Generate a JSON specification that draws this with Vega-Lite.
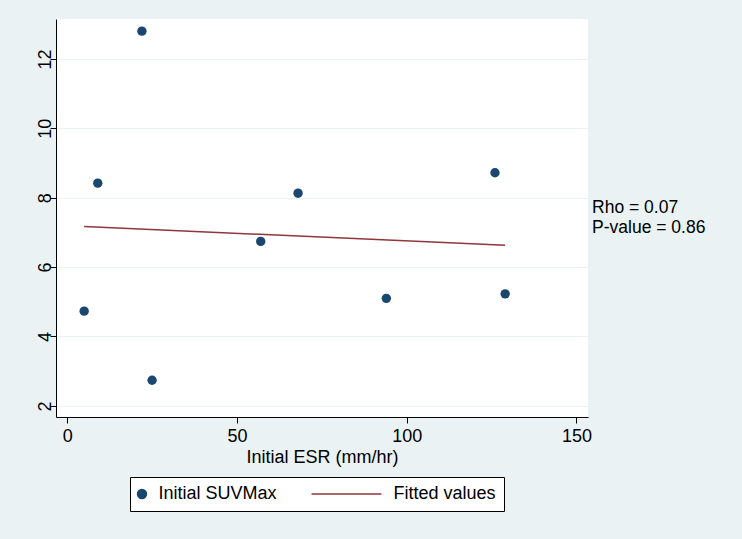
{
  "$schema": "https://vega.github.io/schema/vega-lite/v6.json",
  "width": 532,
  "height": 398,
  "autosize": "none",
  "padding": {"left": 56, "top": 19, "right": 154, "bottom": 122},
  "background": "#EAF2F3",
  "config": {
    "view": {"fill": "white", "stroke": null},
    "font": "Liberation Sans",
    "axis": {
      "domainColor": "#000000",
      "domainWidth": 1,
      "tickColor": "#000000",
      "tickSize": 6,
      "labelFont": "Liberation Sans",
      "labelFontSize": 18,
      "labelColor": "#000000",
      "titleFont": "Liberation Sans",
      "titleFontSize": 18,
      "titleFontWeight": "normal",
      "titleColor": "#000000"
    }
  },
  "datasets": {
    "points": [
      {"esr": 22, "suv": 12.8},
      {"esr": 9, "suv": 8.42},
      {"esr": 5, "suv": 4.73},
      {"esr": 25, "suv": 2.74},
      {"esr": 57, "suv": 6.74},
      {"esr": 68, "suv": 8.13},
      {"esr": 94, "suv": 5.1},
      {"esr": 126, "suv": 8.72},
      {"esr": 129, "suv": 5.23}
    ],
    "fit": [
      {"esr": 5, "fitted": 7.17},
      {"esr": 129, "fitted": 6.63}
    ],
    "note1": [
      {"label": "Rho = 0.07"}
    ],
    "note2": [
      {"label": "P-value = 0.86"}
    ]
  },
  "layer": [
    {
      "data": {"name": "points"},
      "mark": {"type": "point", "filled": true, "size": 88, "opacity": 1},
      "encoding": {
        "x": {
          "field": "esr",
          "type": "quantitative",
          "scale": {"domain": [-3.3, 153.4], "nice": false, "zero": false},
          "axis": {
            "values": [0, 50, 100, 150],
            "grid": false,
            "title": "Initial ESR (mm/hr)",
            "labelPadding": 4,
            "titlePadding": 3
          }
        },
        "y": {
          "field": "suv",
          "type": "quantitative",
          "scale": {"domain": [1.68, 13.15], "nice": false, "zero": false},
          "axis": {
            "values": [2, 4, 6, 8, 10, 12],
            "grid": true,
            "gridColor": "#EAF2F3",
            "gridWidth": 1.2,
            "title": null,
            "labelAngle": -90,
            "labelAlign": "center",
            "labelBaseline": "alphabetic",
            "labelPadding": 0
          }
        },
        "color": {
          "datum": "Initial SUVMax",
          "type": "nominal",
          "scale": {"domain": ["Initial SUVMax", "Fitted values"], "range": ["#1A476F", "#90353B"]},
          "legend": {
            "title": null,
            "orient": "none",
            "direction": "horizontal",
            "legendX": 74,
            "legendY": 458,
            "strokeColor": "#000000",
            "fillColor": "#FFFFFF",
            "padding": 8,
            "labelFontSize": 18,
            "labelColor": "#000000",
            "labelOffset": 7.5,
            "symbolOffset": -5,
            "symbolSize": 80,
            "columnPadding": 31,
            "encode": {
              "symbols": {
                "update": {
                  "stroke": {"signal": "datum.value === 'Fitted values' ? '#90353B' : 'transparent'"},
                  "strokeWidth": {"value": 1.5}
                }
              }
            }
          }
        },
        "shape": {
          "datum": "Initial SUVMax",
          "type": "nominal",
          "scale": {"domain": ["Initial SUVMax", "Fitted values"], "range": ["circle", "M -14.65 0 L 1 0"]},
          "legend": null
        }
      }
    },
    {
      "data": {"name": "fit"},
      "mark": {"type": "line", "strokeWidth": 1.5},
      "encoding": {
        "x": {"field": "esr", "type": "quantitative"},
        "y": {"field": "fitted", "type": "quantitative"},
        "color": {"datum": "Fitted values", "type": "nominal"}
      }
    },
    {
      "data": {"name": "note1"},
      "mark": {"type": "text", "align": "left", "baseline": "middle", "fontSize": 17.5, "color": "#000000", "font": "Liberation Sans"},
      "encoding": {
        "x": {"datum": 154.6, "type": "quantitative"},
        "y": {"datum": 7.69, "type": "quantitative"},
        "text": {"field": "label"}
      }
    },
    {
      "data": {"name": "note2"},
      "mark": {"type": "text", "align": "left", "baseline": "middle", "fontSize": 17.5, "color": "#000000", "font": "Liberation Sans"},
      "encoding": {
        "x": {"datum": 154.6, "type": "quantitative"},
        "y": {"datum": 7.12, "type": "quantitative"},
        "text": {"field": "label"}
      }
    }
  ]
}
